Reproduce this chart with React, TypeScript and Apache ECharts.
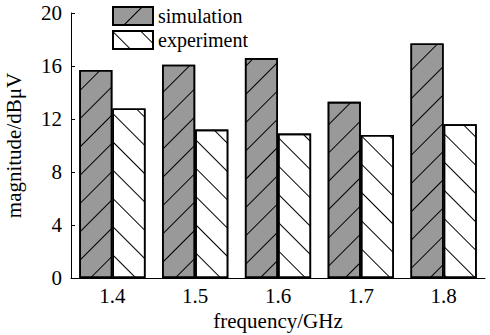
import React, { useEffect, useRef } from "react";
import * as echarts from "echarts";

const categories = ["1.4", "1.5", "1.6", "1.7", "1.8"];
const simulation = [15.7, 16.1, 16.6, 13.3, 17.7];
const experiment = [12.8, 11.2, 10.9, 10.8, 11.6];
const yTicks = [0, 4, 8, 12, 16, 20];

const FONT = "Liberation Serif";

export default function App() {
  const ref = useRef<HTMLDivElement>(null);
  useEffect(() => {
    if (!ref.current) return;
    const chart = echarts.init(ref.current, undefined, { renderer: "svg" });
    const simDecal = {
      symbol: "rect",
      symbolSize: 1,
      color: "#000",
      dashArrayX: [1, 0],
      dashArrayY: [1, 19],
      rotation: -Math.PI / 4,
    };
    const expDecal = {
      symbol: "rect",
      symbolSize: 1,
      color: "#000",
      dashArrayX: [1, 0],
      dashArrayY: [1, 19],
      rotation: Math.PI / 4,
    };
    chart.setOption({
      animation: false,
      textStyle: { fontFamily: FONT, color: "#000" },
      grid: { left: 71, right: 5, top: 13, bottom: 57, outerBoundsMode: "none", containLabel: false },
      legend: {
        orient: "vertical",
        left: 112,
        top: 6,
        padding: 0,
        icon: "rect",
        itemWidth: 40,
        itemHeight: 18,
        itemGap: 4,
        textStyle: { fontFamily: FONT, fontSize: 20, color: "#000" },
        data: ["simulation", "experiment"],
      },
      xAxis: {
        type: "category",
        data: categories,
        name: "frequency/GHz",
        nameLocation: "middle",
        nameGap: 32,
        nameTextStyle: { fontFamily: FONT, fontSize: 21, color: "#000" },
        axisLine: { lineStyle: { color: "#000", width: 1 } },
        axisTick: { inside: true, length: 4, lineStyle: { color: "#000" } },
        axisLabel: { fontFamily: FONT, fontSize: 21, color: "#000", margin: 7 },
      },
      yAxis: {
        type: "value",
        min: yTicks[0],
        max: yTicks[yTicks.length - 1],
        interval: 4,
        name: "magnitude/dBμV",
        nameLocation: "middle",
        nameGap: 47,
        nameTextStyle: { fontFamily: FONT, fontSize: 21, color: "#000" },
        axisLine: { show: true, lineStyle: { color: "#000", width: 1 } },
        axisTick: { show: true, inside: true, length: 4, lineStyle: { color: "#000" } },
        axisLabel: { fontFamily: FONT, fontSize: 21, color: "#000", margin: 9 },
        splitLine: { show: false },
      },
      series: [
        {
          name: "simulation",
          type: "bar",
          data: simulation,
          barGap: "0%",
          barCategoryGap: "20%",
          itemStyle: {
            color: "#999999",
            borderColor: "#000",
            borderWidth: 1.6,
            decal: simDecal,
          },
        },
        {
          name: "experiment",
          type: "bar",
          data: experiment,
          barGap: "0%",
          barCategoryGap: "20%",
          itemStyle: {
            color: "#ffffff",
            borderColor: "#000",
            borderWidth: 1.6,
            decal: expDecal,
          },
        },
      ],
    });
    return () => chart.dispose();
  }, []);
  return <div ref={ref} style={{ width: 490, height: 335, position: "absolute", left: 0, top: 0 }} />;
}
